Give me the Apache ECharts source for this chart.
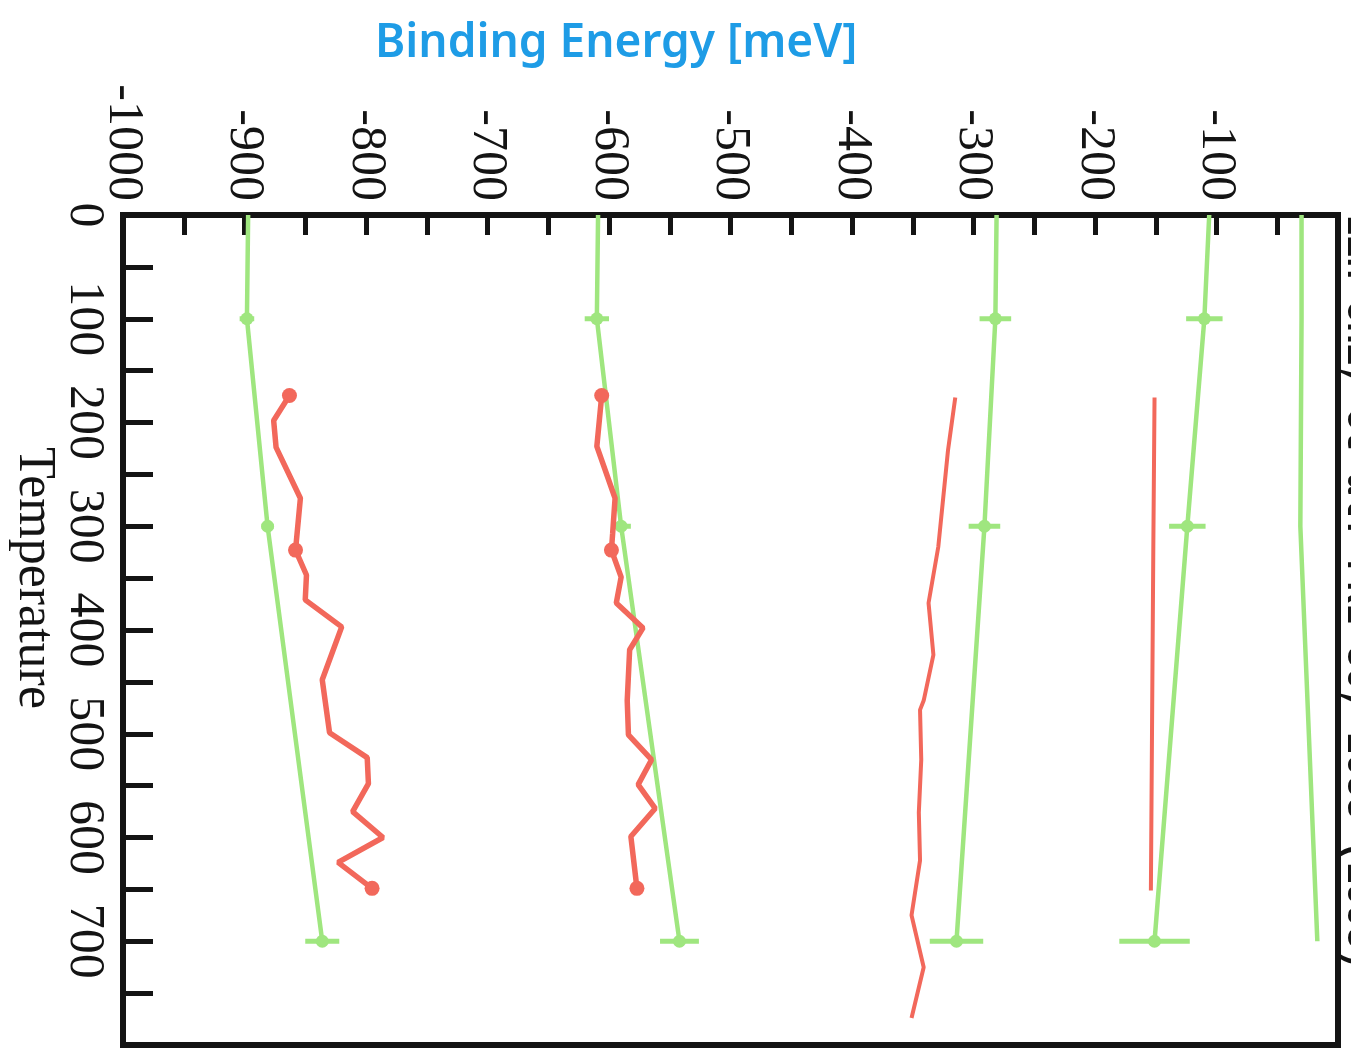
<!DOCTYPE html>
<html>
<head>
<meta charset="utf-8">
<title>Binding Energy vs Temperature</title>
<script src="https://cdn.jsdelivr.net/npm/echarts@6/dist/echarts.min.js"></script>
<style>
  html, body { margin: 0; padding: 0; background: #ffffff; }
  #chart { width: 1351px; height: 1049px; }
</style>
</head>
<body>
<div id="chart"></div>
<script>
// ---- Theory curves (green): binding energy [meV] at each temperature ----
const theoryTemps = [0, 100, 300, 700];
const theoryA = [-897, -898, -881, -836];
const theoryB = [-609, -610, -590, -542];
const theoryC = [-281, -282, -291, -314];
const theoryD = [-106, -110, -124, -151];
const theoryE = [-30, -30, -31, -17];

// error-bar half widths [meV] at the marked temperatures 100, 300, 700
const errTemps = [100, 300, 700];
const errA = [6, 5, 14];
const errB = [10, 8, 16];
const errC = [13, 13, 22];
const errD = [15, 15, 29];

// ---- Measured curves (red) ----
const expATemps = [174, 198, 224, 273, 323, 347, 371, 397, 448, 499, 523, 548, 575, 600, 624, 649];
const expA      = [-863, -876, -874, -854, -858, -849, -850, -820, -836, -830, -799, -798, -811, -786, -823, -795];
const expBTemps = [174, 223, 273, 307, 323, 349, 374, 398, 419, 468, 501, 525, 549, 572, 599, 649];
const expB      = [-606, -610, -595, -597, -598, -590, -594, -572, -583, -585, -584, -565, -576, -562, -582, -577];
const expCTemps = [176, 227, 320, 374, 424, 468, 477, 525, 576, 622, 675, 725, 774];
const expC      = [-315, -321, -329, -337, -333, -341, -344, -343, -345, -344, -351, -341, -351];
const expDTemps = [176, 320, 651];
const expD      = [-151, -152, -154];
// temperatures where the measured series carry a dot
const dotTemps = [174, 323, 649];

// axis tick labels
const energyLabels = [-1000, -900, -800, -700, -600, -500, -400, -300, -200, -100];
const tempLabels = [0, 100, 200, 300, 400, 500, 600, 700];

const GREEN = '#9fe67f';
const RED = '#f2685b';
const INK = '#141414';

function pairs(temps, vals) {
  return temps.map((t, i) => [vals[i], t]);
}
function errPairs(vals, errs) {
  return errTemps.map((t, i) => [vals[theoryTemps.indexOf(t)], t, errs[i]]);
}

function theoryLine(vals, marked) {
  return {
    type: 'line',
    data: pairs(theoryTemps, vals),
    symbol: marked ? (v) => (v[1] === 0 ? 'none' : 'circle') : 'none',
    symbolSize: 13,
    showSymbol: marked,
    itemStyle: { color: GREEN },
    lineStyle: { color: GREEN, width: 4.5 },
    z: 3,
    animation: false
  };
}

function errBars(vals, errs) {
  return {
    type: 'custom',
    data: errPairs(vals, errs),
    renderItem: function (params, api) {
      const e = api.value(0), t = api.value(1), h = api.value(2);
      const p1 = api.coord([e - h, t]);
      const p2 = api.coord([e + h, t]);
      return {
        type: 'line',
        shape: { x1: p1[0], y1: p1[1], x2: p2[0], y2: p2[1] },
        style: { stroke: GREEN, lineWidth: 5 }
      };
    },
    z: 2,
    animation: false
  };
}

function expLine(temps, vals, width, dotted) {
  return {
    type: 'line',
    data: pairs(temps, vals),
    symbol: dotted ? (v) => (dotTemps.indexOf(v[1]) >= 0 ? 'circle' : 'none') : 'none',
    symbolSize: 15,
    showSymbol: dotted,
    itemStyle: { color: RED },
    lineStyle: { color: RED, width: width },
    z: 4,
    animation: false
  };
}

const chart = echarts.init(document.getElementById('chart'), null, { renderer: 'canvas' });

chart.setOption({
  backgroundColor: '#ffffff',
  animation: false,
  title: {
    text: 'Binding Energy [meV]',
    left: 370,
    top: 16,
    textStyle: {
      fontFamily: 'Noto Sans',
      fontWeight: 600,
      fontSize: 46,
      color: '#1e9ce6'
    }
  },
  grid: {
    left: 123, top: 215, right: 13, bottom: 4,
    show: true,
    borderColor: INK,
    borderWidth: 6,
    backgroundColor: 'transparent'
  },
  xAxis: {
    type: 'value',
    position: 'top',
    min: -1000, max: 0, interval: 50,
    axisLine: { show: false, onZero: false },
    splitLine: { show: false },
    axisTick: { inside: true, length: 20, lineStyle: { color: INK, width: 5 } },
    axisLabel: {
      rotate: 90,
      margin: 14,
      fontFamily: 'Liberation Serif',
      fontSize: 50,
      color: INK,
      formatter: (v) => (energyLabels.indexOf(v) >= 0 ? String(v) : '')
    }
  },
  yAxis: {
    type: 'value',
    position: 'left',
    inverse: true,
    min: 0, max: 800, interval: 50,
    axisLine: { show: false, onZero: false },
    splitLine: { show: false },
    axisTick: { inside: true, length: 30, lineStyle: { color: INK, width: 5 } },
    axisLabel: {
      rotate: -90,
      margin: 14,
      fontFamily: 'Liberation Serif',
      fontSize: 50,
      color: INK,
      formatter: (v) => (tempLabels.indexOf(v) >= 0 ? String(v) : '')
    }
  },
  graphic: [
    {
      type: 'text',
      x: 34, y: 578,
      rotation: -Math.PI / 2,
      style: {
        text: 'Temperature',
        font: '52px "Liberation Serif"',
        fill: INK,
        align: 'center',
        verticalAlign: 'middle'
      }
    },
    {
      type: 'text',
      x: 1339, y: 214,
      rotation: -Math.PI / 2,
      style: {
        text: 'Lin Chi, et al. PRL 80, 2053 (1998)',
        font: 'bold 36px "Liberation Mono"',
        fill: INK,
        align: 'left',
        verticalAlign: 'bottom'
      }
    }
  ],
  series: [
    errBars(theoryA, errA),
    errBars(theoryB, errB),
    errBars(theoryC, errC),
    errBars(theoryD, errD),
    theoryLine(theoryA, true),
    theoryLine(theoryB, true),
    theoryLine(theoryC, true),
    theoryLine(theoryD, true),
    theoryLine(theoryE, false),
    expLine(expATemps, expA, 5.5, true),
    expLine(expBTemps, expB, 5.5, true),
    expLine(expCTemps, expC, 4, false),
    expLine(expDTemps, expD, 4, false)
  ]
});
</script>
</body>
</html>
